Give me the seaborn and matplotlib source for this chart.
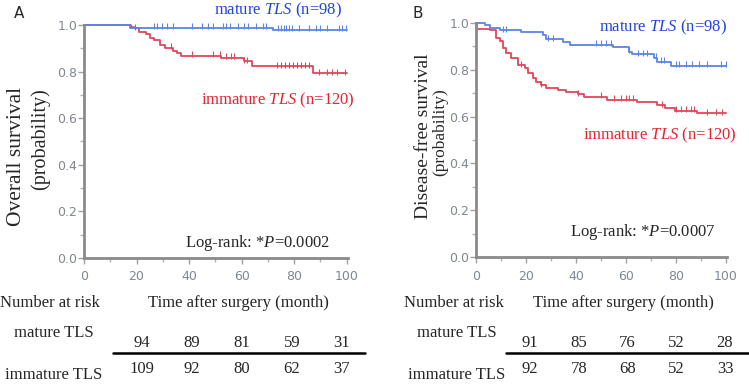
import matplotlib
matplotlib.use('Agg')
import matplotlib.pyplot as plt
import numpy as np
import pandas as pd
import seaborn as sns

# Kaplan-Meier step points (time in months, survival probability)
os_mature_t = [0, 17.5, 72, 100]
os_mature_s = [1.0, 0.988, 0.979, 0.979]
os_immature_t = [0, 18, 19, 21, 23.5, 25, 26.5, 29, 31, 34, 35.5, 37, 52, 61, 64, 87, 100]
os_immature_s = [1.0, 0.992, 0.985, 0.971, 0.96, 0.945, 0.936, 0.914, 0.903, 0.888, 0.878,
                 0.868, 0.86, 0.845, 0.823, 0.792, 0.792]

dfs_mature_t = [0, 3.6, 5.6, 9.6, 18.2, 26.8, 28, 34.7, 37.5, 55, 61.4, 62.5, 71.3, 72.5, 78, 100]
dfs_mature_s = [1.0, 0.991, 0.977, 0.97, 0.963, 0.949, 0.932, 0.92, 0.907, 0.896, 0.877,
                0.866, 0.852, 0.835, 0.818, 0.818]
dfs_immature_t = [0, 0.5, 5.6, 8.2, 9.6, 10.9, 12.2, 14.2, 16.8, 19.5, 20.8, 22.8, 24.2, 26.2,
                  28.2, 32.7, 36.1, 40.7, 43.4, 52.5, 64.5, 72.5, 75.5, 79.5, 88.4, 100]
dfs_immature_s = [1.0, 0.975, 0.97, 0.935, 0.923, 0.892, 0.87, 0.849, 0.82, 0.806, 0.785,
                  0.764, 0.75, 0.735, 0.724, 0.714, 0.707, 0.695, 0.685, 0.673, 0.662, 0.648,
                  0.635, 0.625, 0.615, 0.615]

# censored observations
os_mature_cens = [26.5, 27.8, 29.7, 31.6, 34, 41, 44.8, 47.3, 49.2, 53, 54.2, 55.5, 58.6, 61,
                  62.4, 65.5, 68, 69.3, 74, 75, 76, 77, 78, 79.3, 81.9, 85.7, 88.2, 90, 92.6,
                  97, 98.3, 99.6]
os_immature_cens = [19.6, 33, 41, 49, 51.7, 54, 56, 57, 61, 62, 73.5, 75, 76.5, 78, 79.5, 81,
                    82.5, 84, 85.5, 89.4, 92.6, 94.5, 96.4, 99.5]
dfs_mature_cens = [10.9, 12.2, 28.8, 30.8, 48, 50, 52, 54, 61.4, 64.7, 66.7, 68.6, 72, 74, 75.3,
                   80, 81.3, 84, 86.6, 89.2, 92.6, 97.9, 99.9]
dfs_immature_cens = [18.2, 26.2, 40.7, 50, 55.4, 58, 60, 61.4, 62.7, 74.6, 80, 81.9, 84, 85.9,
                     87.3, 92.6, 95.9, 98.5]

risk_os_mature = [94, 89, 81, 59, 31]
risk_os_immature = [109, 92, 80, 62, 37]
risk_dfs_mature = [91, 85, 76, 52, 28]
risk_dfs_immature = [92, 78, 68, 52, 33]

xticks = [0, 20, 40, 60, 80, 100]
yticks = [0.0, 0.2, 0.4, 0.6, 0.8, 1.0]

BLUE_LINE = '#5a84e8'
RED_LINE = '#e2465a'
BLUE_TXT = '#2244e0'
RED_TXT = '#e6222e'
TICK_COL = '#7f8790'

sns.set_style('ticks')
plt.rcParams['font.family'] = ['Liberation Serif', 'DejaVu Serif']
plt.rcParams['mathtext.fontset'] = 'custom'
plt.rcParams['mathtext.rm'] = 'Liberation Serif'
plt.rcParams['mathtext.it'] = 'Liberation Serif:italic'

W, H = 749, 385
fig = plt.figure(figsize=(W / 100, H / 100), dpi=100)


def fx(px):
    return px / W


def fy(py):
    return 1 - py / H


def km_panel(rect, t1, s1, c1, t2, s2, c2):
    ax = fig.add_axes(rect)
    for t, s, cens, col in [(t2, s2, c2, RED_LINE), (t1, s1, c1, BLUE_LINE)]:
        d = pd.DataFrame({'t': t, 's': s})
        sns.lineplot(data=d, x='t', y='s', drawstyle='steps-post', color=col,
                     lw=1.3, estimator=None, ax=ax, clip_on=False)
        idx = np.searchsorted(np.array(t), np.array(cens), side='right') - 1
        ax.plot(cens, np.array(s)[idx] + 0.006, ls='none', marker='|', ms=4, mew=0.8,
                color=col, clip_on=False)
    ax.set_xlim(0, 100.5)
    ax.set_ylim(0, 1.0)
    ax.set_xticks(xticks)
    ax.set_yticks(yticks)
    ax.set_xticks(np.arange(10, 100, 20), minor=True)
    ax.set_yticks(np.arange(0.1, 1.0, 0.2), minor=True)
    ax.set_yticklabels([f'{v:.1f}' for v in yticks])
    ax.set_xlabel('')
    ax.set_ylabel('')
    for lab in ax.get_xticklabels() + ax.get_yticklabels():
        lab.set_fontfamily('DejaVu Sans')
        lab.set_fontsize(9)
        lab.set_color(TICK_COL)
    ax.tick_params(which='major', length=4, width=1, color='#a0a0a0', pad=2)
    ax.tick_params(which='minor', length=3, width=1, color='#b0b0b0')
    ax.tick_params(axis='x', which='major', pad=5)
    ax.tick_params(axis='y', which='major', pad=1)
    sns.despine(ax=ax)
    for side in ['left', 'bottom']:
        ax.spines[side].set_color('#8a8a8a')
        ax.spines[side].set_linewidth(2)
    ax.patch.set_alpha(0)
    return ax


axA = km_panel([fx(84), fy(258), fx(348) - fx(84), fy(25) - fy(258)],
               os_mature_t, os_mature_s, os_mature_cens,
               os_immature_t, os_immature_s, os_immature_cens)
axB = km_panel([fx(476), fy(257), fx(727) - fx(476), fy(23) - fy(257)],
               dfs_mature_t, dfs_mature_s, dfs_mature_cens,
               dfs_immature_t, dfs_immature_s, dfs_immature_cens)

# panel letters
fig.text(fx(19), fy(14), 'A', fontsize=11, family='DejaVu Sans', ha='center', va='center')
fig.text(fx(418), fy(14), 'B', fontsize=11, family='DejaVu Sans', ha='center', va='center')

# y labels
fig.text(fx(17), fy(156), 'Overall survival', rotation=90, fontsize=15.5, ha='center', va='center')
fig.text(fx(40), fy(139), '(probability)', rotation=90, fontsize=14.5, ha='center', va='center')
fig.text(fx(423), fy(136), 'Disease-free survival', rotation=90, fontsize=14, ha='center', va='center')
fig.text(fx(440), fy(132), '(probability)', rotation=90, fontsize=12.5, ha='center', va='center')

# curve labels
fs = 12
fig.text(fx(278), fy(10), r'mature $\mathit{TLS}$ (n=98)', color=BLUE_TXT, fontsize=fs, ha='center', va='center')
fig.text(fx(278), fy(100), r'immature $\mathit{TLS}$ (n=120)', color=RED_TXT, fontsize=fs, ha='center', va='center')
fig.text(fx(663), fy(27), r'mature $\mathit{TLS}$ (n=98)', color=BLUE_TXT, fontsize=fs, ha='center', va='center')
fig.text(fx(660), fy(135), r'immature $\mathit{TLS}$ (n=120)', color=RED_TXT, fontsize=fs, ha='center', va='center')

fig.text(fx(258), fy(243), r'Log-rank: *$\mathit{P}$=0.0002', fontsize=fs, ha='center', va='center')
fig.text(fx(643), fy(232), r'Log-rank: *$\mathit{P}$=0.0007', fontsize=fs, ha='center', va='center')


# number at risk tables
def risk_table(x_name, x_title, x_grp, xs, line_x, r1, r2):
    fig.text(fx(x_name), fy(303), 'Number at risk', fontsize=fs, ha='center', va='center')
    fig.text(fx(x_title), fy(303), 'Time after surgery (month)', fontsize=fs, ha='center', va='center')
    fig.text(fx(x_grp), fy(333), 'mature TLS', fontsize=fs, ha='center', va='center')
    fig.text(fx(x_grp), fy(375), 'immature TLS', fontsize=fs, ha='center', va='center')
    for x, a, b in zip(xs, r1, r2):
        fig.text(fx(x), fy(343), str(a), fontsize=fs, ha='center', va='center')
        fig.text(fx(x), fy(369), str(b), fontsize=fs, ha='center', va='center')
    fig.add_artist(plt.Line2D([fx(line_x[0]), fx(line_x[1])], [fy(353), fy(353)],
                              color='black', lw=1.8, transform=fig.transFigure))


risk_table(50, 238, 54, np.linspace(142, 342, 5), (113, 365), risk_os_mature, risk_os_immature)
risk_table(454, 623, 457, np.linspace(530, 725, 5), (506, 749), risk_dfs_mature, risk_dfs_immature)

fig.savefig('out.png', dpi=100)
